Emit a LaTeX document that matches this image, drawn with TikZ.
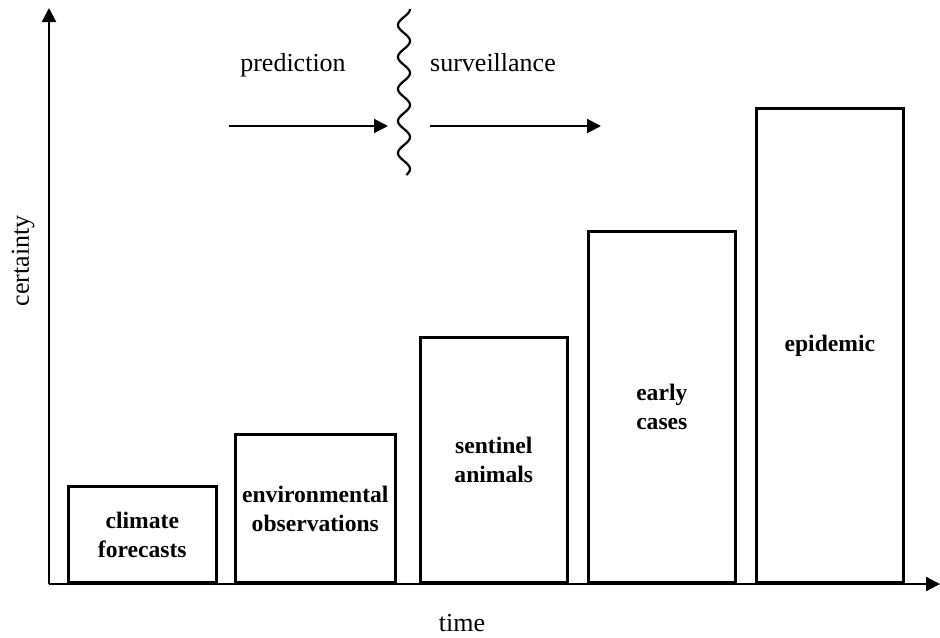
\documentclass[tikz,border=0pt]{standalone}
\usepackage{fontspec}
\setmainfont{Liberation Serif}
\usepackage{tikz}
\usetikzlibrary{arrows.meta,positioning}

\begin{document}
\begin{tikzpicture}[x=0.5pt, y=-0.5pt,
    bar/.style={draw, line width=1.3pt, rectangle, inner sep=0pt, anchor=south west, align=center, font=\fontsize{11.8}{14.5}\selectfont\bfseries},
    lbl/.style={font=\fontsize{13}{15.6}\selectfont, inner sep=0pt},
    axis/.style={-{Triangle[length=7pt, width=7pt]}, line width=1.1pt},
    arr/.style={-{Triangle[length=7pt, width=7pt]}, line width=1pt}]

    \useasboundingbox (0,0) rectangle (940,637);

    % axes
    \coordinate (origin) at (49,584);
    \coordinate (ytop) at (49,8);
    \coordinate (xend) at (940,584);
    \draw[axis] (origin) -- (ytop);
    \draw[axis] (origin) -- (xend);
    \node[lbl, rotate=90] (certainty) at (23,261) {certainty};
    \node[lbl, anchor=base] (time) at (462,631) {time};

    % bars
    \node[bar, minimum width=74pt, minimum height=48pt] (climate) at (67,584) {climate\\forecasts};
    \node[bar, minimum width=80pt, minimum height=74pt] (envobs) at (234,584) {environmental\\observations};
    \node[bar, minimum width=73.5pt, minimum height=122.5pt] (sentinel) at (419,584) {sentinel\\animals};
    \node[bar, minimum width=73.5pt, minimum height=175.5pt] (early) at (587,584) {early\\cases};
    \node[bar, minimum width=73.5pt, minimum height=237pt] (epidemic) at (755,584) {epidemic};

    % prediction / surveillance
    \node[lbl, anchor=base] (prediction) at (293,71) {prediction};
    \node[lbl, anchor=base] (surveillance) at (493,71) {surveillance};
    \coordinate (p1) at (229,126);
    \coordinate (p2) at (388,126);
    \coordinate (s1) at (430,126);
    \coordinate (s2) at (601,126);
    \draw[arr] (p1) -- (p2);
    \draw[arr] (s1) -- (s2);

    % wavy divider
    \draw[line width=1.1pt, smooth, samples=120, domain=9:175, variable=\t]
        plot ({404+6*sin(11.25*(\t-9)+90)}, \t);
\end{tikzpicture}
\end{document}
